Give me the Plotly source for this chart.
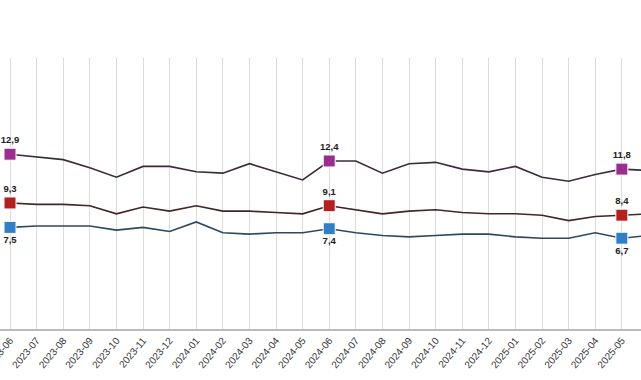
import plotly.graph_objects as go

months = ["2023-06", "2023-07", "2023-08", "2023-09", "2023-10", "2023-11", "2023-12",
          "2024-01", "2024-02", "2024-03", "2024-04", "2024-05", "2024-06", "2024-07",
          "2024-08", "2024-09", "2024-10", "2024-11", "2024-12", "2025-01", "2025-02",
          "2025-03", "2025-04", "2025-05", "2025-06"]

purple_vals = [12.9, 12.7, 12.5, 11.9, 11.2, 12.0, 12.0, 11.6, 11.5, 12.2, 11.6, 11.0, 12.4,
               12.4, 11.5, 12.2, 12.3, 11.8, 11.6, 12.0, 11.2, 10.9, 11.4, 11.8, 11.7]
red_vals = [9.3, 9.2, 9.2, 9.1, 8.5, 9.0, 8.7, 9.1, 8.7, 8.7, 8.6, 8.5, 9.1,
            8.8, 8.5, 8.7, 8.8, 8.6, 8.5, 8.5, 8.4, 8.0, 8.3, 8.4, 8.5]
blue_vals = [7.5, 7.6, 7.6, 7.6, 7.3, 7.5, 7.2, 7.9, 7.1, 7.0, 7.1, 7.1, 7.4,
             7.1, 6.9, 6.8, 6.9, 7.0, 7.0, 6.8, 6.7, 6.7, 7.1, 6.7, 6.9]

label_idx = [0, 12, 23]

series = [
    (purple_vals, "#9b2d8f", "#3f2a3b", "top center"),
    (red_vals, "#b5201f", "#432626", "top center"),
    (blue_vals, "#2f80c8", "#2e4860", "bottom center"),
]

fig = go.Figure()
for vals, mcol, lcol, tpos in series:
    fig.add_trace(go.Scatter(
        x=months, y=vals, mode="lines",
        line=dict(color=lcol, width=1.6), hoverinfo="skip", showlegend=False))
    fig.add_trace(go.Scatter(
        x=[months[i] for i in label_idx], y=[vals[i] for i in label_idx],
        mode="markers+text",
        marker=dict(symbol="square", size=12, color=mcol, line=dict(color="#ffffff", width=1)),
        texttemplate="<b>%{y:.1f}</b>", textposition=tpos,
        textfont=dict(family="Liberation Sans, Arial", size=9.5, color="#222222"),
        cliponaxis=False,
        showlegend=False))

fig.update_layout(
    width=641, height=380,
    margin=dict(l=0, r=0, t=58, b=51),
    paper_bgcolor="white", plot_bgcolor="white",
    separators=",.",
    showlegend=False,
    xaxis=dict(
        type="category", range=[-0.376, 23.72], automargin=False,
        showgrid=True, gridcolor="#dcdcdc", gridwidth=1,
        showline=True, linecolor="#bbbbbb", linewidth=1.5,
        tickangle=-50, tickfont=dict(family="Liberation Sans, Arial", size=10, color="#333333"),
        ticks="", zeroline=False),
    yaxis=dict(range=[0, 20], automargin=False, showgrid=False, showticklabels=False,
               zeroline=False, showline=False),
)

fig.write_html("out.html", config={"displayModeBar": False},
               post_script="document.body.style.margin='0';")
